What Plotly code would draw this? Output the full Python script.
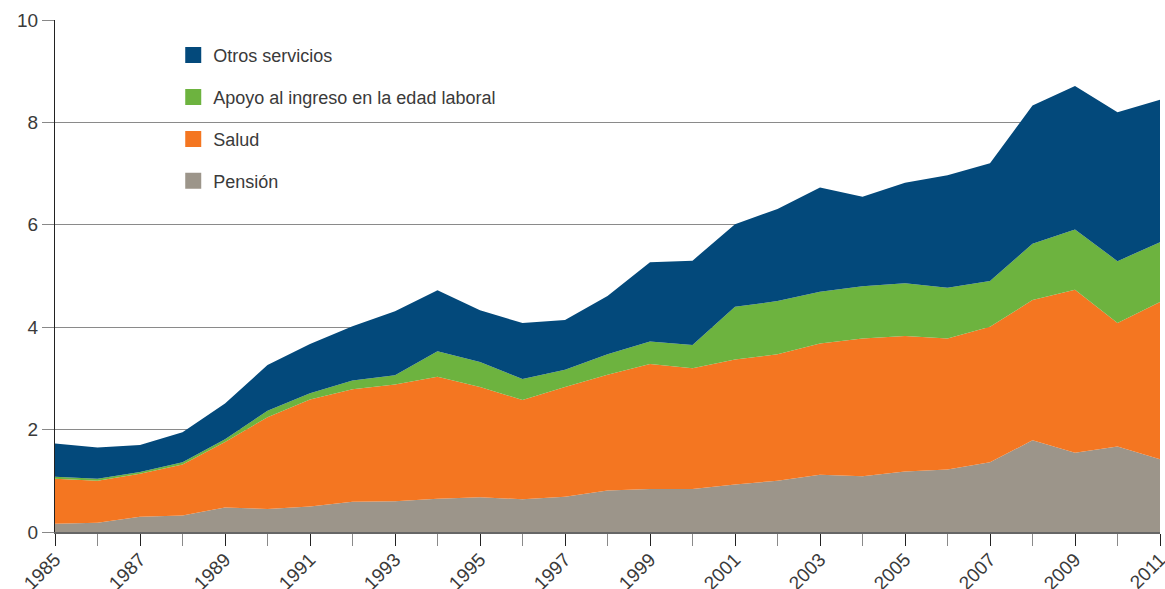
import plotly.graph_objects as go

years = list(range(1985, 2012))
label_years = years[::2]
pension = [0.16, 0.18, 0.30, 0.32, 0.48, 0.45, 0.50, 0.59, 0.60, 0.65, 0.68, 0.64, 0.69, 0.81,
           0.84, 0.84, 0.93, 1.00, 1.12, 1.09, 1.18, 1.22, 1.36, 1.79, 1.55, 1.67, 1.42]
salud = [0.88, 0.82, 0.84, 1.00, 1.28, 1.79, 2.09, 2.20, 2.28, 2.38, 2.15, 1.94, 2.14, 2.26,
         2.44, 2.36, 2.44, 2.47, 2.56, 2.69, 2.65, 2.56, 2.65, 2.74, 3.18, 2.41, 3.07]
apoyo = [0.04, 0.04, 0.03, 0.04, 0.05, 0.13, 0.12, 0.17, 0.18, 0.50, 0.49, 0.41, 0.34, 0.40,
         0.44, 0.45, 1.03, 1.04, 1.01, 1.02, 1.03, 0.99, 0.89, 1.10, 1.18, 1.21, 1.17]
otros = [0.65, 0.61, 0.53, 0.59, 0.70, 0.89, 0.96, 1.06, 1.25, 1.19, 1.01, 1.09, 0.97, 1.14,
         1.55, 1.65, 1.61, 1.80, 2.04, 1.75, 1.96, 2.20, 2.30, 2.70, 2.80, 2.91, 2.78]

series = [
    ("Pensión", pension, "#9c958a"),
    ("Salud", salud, "#f47621"),
    ("Apoyo al ingreso en la edad laboral", apoyo, "#6db33f"),
    ("Otros servicios", otros, "#03497b"),
]

y_ticks = [0, 2, 4, 6, 8, 10]

fig = go.Figure()
for name, vals, col in series:
    fig.add_trace(go.Scatter(
        x=years, y=vals, name=name, stackgroup="one", mode="none",
        fillcolor=col, showlegend=False, hoverinfo="x+y+name",
    ))

for i, (name, vals, col) in enumerate(reversed(series)):
    fig.add_trace(go.Scatter(
        x=[None], y=[None], name=name, mode="markers",
        marker=dict(symbol="square", size=16, color=col),
        showlegend=True, legendgroup=f"g{i}",
    ))

font_col = "#3a3a3a"
fig.update_layout(
    width=1165, height=589,
    margin=dict(l=55, r=5, t=20, b=57),
    paper_bgcolor="white", plot_bgcolor="white",
    font=dict(family="Liberation Sans, Arial, sans-serif", size=18, color=font_col),
    showlegend=True,
    legend=dict(
        x=0.107, y=0.967, xanchor="left", yanchor="top",
        traceorder="grouped", tracegroupgap=15.5,
        font=dict(size=18, color=font_col),
        bgcolor="rgba(0,0,0,0)", itemsizing="trace",
    ),
    xaxis=dict(
        range=[1985, 2011], tickmode="array", tickvals=label_years,
        ticktext=[str(y) for y in label_years],
        tickangle=-45, ticks="outside", ticklen=12, tickcolor="#222",
        minor=dict(tickmode="array", tickvals=years, ticks="outside",
                   ticklen=12, tickcolor="#8a8a8a", showgrid=False),
        showgrid=False, showline=True, linecolor="#666", linewidth=2,
        zeroline=False, tickfont=dict(size=19, color=font_col),
        automargin=False, ticklabeloverflow="allow", ticklabelstandoff=-5,
    ),
    yaxis=dict(
        range=[0, 10], tickmode="array", tickvals=y_ticks,
        ticks="outside", ticklen=12, tickcolor="#888",
        showgrid=True, gridcolor="#8a8a8a", gridwidth=1,
        showline=True, linecolor="#222", linewidth=1,
        zeroline=False, tickfont=dict(size=19, color=font_col),
        automargin=False,
    ),
)

fig.write_html(
    "out.html",
    config={"displayModeBar": False},
    post_script="document.body.style.margin='0';document.body.style.overflow='hidden';",
)
